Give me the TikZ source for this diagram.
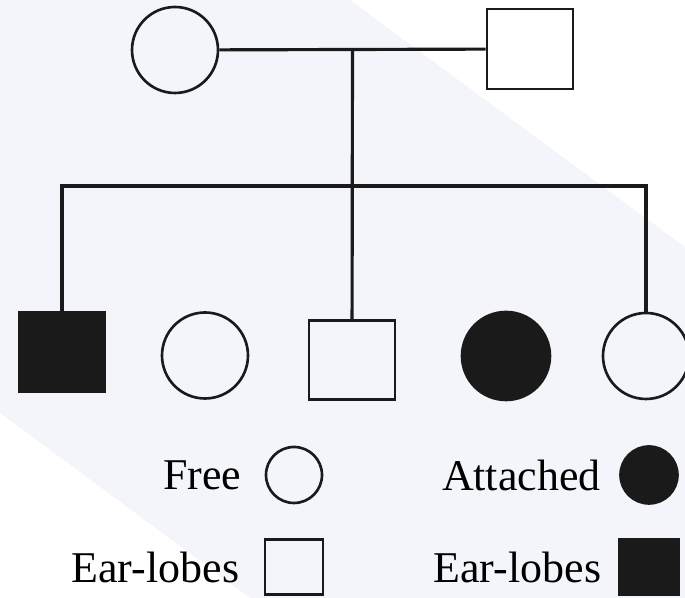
\documentclass[tikz,border=0pt]{standalone}
\usepackage{fontspec}
\setmainfont{Liberation Serif}
\usetikzlibrary{positioning}
\definecolor{tint}{RGB}{243,245,250}
\definecolor{ink}{RGB}{26,26,26}
\tikzset{
	person/.style={draw=ink,line width=1.5pt,inner sep=0pt},
	female/.style={person,circle,minimum size=1.72cm},
	male/.style={person,rectangle,minimum width=1.72cm,minimum height=1.6cm},
	attached/.style={fill=ink},
	key/.style={inner sep=0pt,font=\fontsize{25}{30}\selectfont}
}
\begin{document}
\begin{tikzpicture}[line width=1.8pt]
	\useasboundingbox (0,0) rectangle (13.7,11.96);
	% shaded backdrop
	\fill[tint] (0,0) rectangle (13.7,11.96);
	\fill[white] (7.0,11.96) -- (13.7,11.96) -- (13.7,7.02) -- cycle;
	\fill[white] (0,3.7) -- (5.0,0) -- (0,0) -- cycle;

	% parents
	\node[female] (mother) at (3.5,10.96) {};
	\node[male]   (father) at (10.6,10.98) {};
	\draw[ink] (mother) -- coordinate (mid) (father);

	% children
	\node[male,attached]   (c1) at (1.24,4.92) {};
	\node[female]          (c2) at (4.1,4.85) {};
	\node[male,minimum height=1.58cm] (c3) at (7.04,4.76) {};
	\node[female,attached,minimum size=1.76cm] (c4) at (10.12,4.84) {};
	\node[female]          (c5) at (12.92,4.84) {};
	\coordinate (sib) at (7.04,8.24);
	\draw[ink] (mid) -- (c3);
	\draw[ink] (c1) |- (sib) -| (c5);

	% key
	\node[person,circle,minimum size=1.12cm] (kfree) at (5.88,2.46) {};
	\node[person,circle,attached,minimum size=1.14cm] (katt) at (12.98,2.46) {};
	\node[person,minimum width=1.16cm,minimum height=1.1cm] (kfsq) at (5.88,0.62) {};
	\node[person,attached,minimum width=1.2cm,minimum height=1.1cm] (kasq) at (12.98,0.62) {};
	\node[key,left=0.44cm of kfree] (tfree) {Free};
	\node[key,left=0.34cm of katt]  (tatt)  {Attached};
	\node[key,left=0.46cm of kfsq]  (tfsq)  {Ear-lobes};
	\node[key,left=0.3cm of kasq]   (tasq)  {Ear-lobes};
\end{tikzpicture}
\end{document}
